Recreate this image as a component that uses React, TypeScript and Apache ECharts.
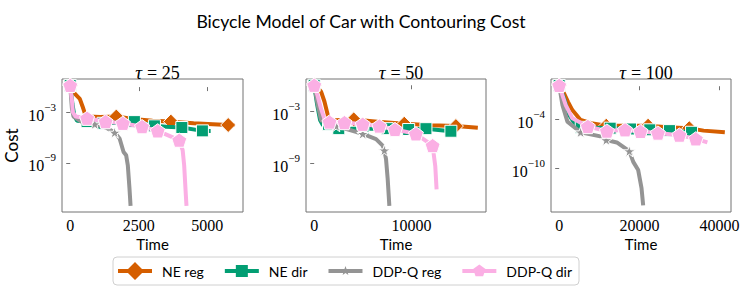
import React, { useEffect, useRef } from 'react';
import * as echarts from 'echarts';

// ---- Data: [time, log10(cost)] pairs; marker indices per series ----
const seriesNames = ['NE reg', 'NE dir', 'DDP-Q reg', 'DDP-Q dir'];
const seriesColors = ['#d55e00', '#029e73', '#949494', '#fbafe4'];
const panelTaus = [25, 50, 100];

// tau = 25
const tau25NeReg = [[0, 0.2], [50, -0.3], [200, -0.9], [350, -1.4], [450, -2.3], [530, -3.1], [650, -3.5], [1100, -3.55], [1680, -3.5], [2300, -3.8], [3000, -4.0], [3670, -4.1], [4500, -4.3], [5200, -4.4], [5760, -4.5], [6000, -4.5]];
const tau25NeRegMarks = [0, 8, 11, 14];
const tau25NeDir = [[0, 0.2], [80, -2.0], [150, -3.4], [250, -4.0], [616, -4.1], [1200, -4.3], [1800, -4.2], [2340, -4.1], [3070, -4.6], [3500, -4.7], [4070, -4.8], [4820, -5.2], [5120, -5.2]];
const tau25NeDirMarks = [0, 4, 5, 7, 8, 10, 11];
const tau25DdpReg = [[0, 0.2], [60, -2.5], [120, -3.5], [400, -4.1], [894, -4.4], [1300, -4.8], [1620, -5.4], [1800, -6.1], [1945, -7.7], [2040, -8.1], [2100, -9.3], [2160, -12.0], [2200, -14.1]];
const tau25DdpRegMarks = [0, 4, 6];
const tau25DdpDir = [[0, 0.2], [60, -1.5], [100, -3.0], [200, -3.5], [616, -3.7], [1290, -4.1], [1920, -4.3], [2620, -4.7], [3190, -5.2], [3975, -6.3], [4100, -7.5], [4155, -9.3], [4215, -12.8], [4240, -14.1]];
const tau25DdpDirMarks = [0, 4, 5, 6, 7, 8, 9];

// tau = 50
const tau50NeReg = [[0, 0.0], [300, -0.2], [717, -0.75], [1059, -1.9], [1400, -3.46], [1740, -4.05], [4060, -3.93], [6500, -4.2], [9250, -4.43], [12000, -4.6], [14550, -4.7], [16800, -4.9]];
const tau50NeRegMarks = [0, 6, 8, 10];
const tau50NeDir = [[0, 0.0], [300, -2.2], [600, -4.0], [900, -4.6], [1470, -4.5], [2527, -5.0], [5000, -5.0], [7500, -5.0], [9700, -5.1], [11474, -5.0], [14036, -5.3], [14300, -5.3]];
const tau50NeDirMarks = [0, 4, 5, 6, 7, 8, 9, 10];
const tau50DdpReg = [[0, 0.0], [375, -2.3], [717, -4.05], [2254, -4.7], [3500, -5.1], [4986, -5.6], [6352, -6.2], [7035, -6.95], [7206, -7.5], [7376, -8.5], [7547, -10.8], [7718, -13.9]];
const tau50DdpRegMarks = [0, 3, 5, 8];
const tau50DdpDir = [[0, 0.0], [350, -1.2], [700, -2.7], [1060, -3.9], [1570, -4.24], [3108, -4.3], [4986, -4.5], [6693, -4.7], [8298, -5.1], [10450, -5.6], [12157, -6.95], [12430, -9.3], [12567, -12.0]];
const tau50DdpDirMarks = [0, 4, 5, 6, 7, 8, 9, 10];

// tau = 100
const tau100NeReg = [[0, 0.1], [1232, -0.9], [2200, -1.9], [3284, -2.9], [5336, -4.1], [8000, -4.5], [11740, -4.8], [17000, -4.8], [22167, -4.8], [27000, -5.0], [32430, -5.1], [36000, -5.4], [41300, -5.6]];
const tau100NeRegMarks = [0, 6, 8, 10];
const tau100NeDir = [[0, 0.1], [1232, -1.5], [2463, -3.5], [4105, -4.7], [5500, -5.0], [12725, -5.1], [17800, -5.2], [22578, -5.3], [27500, -5.4], [33000, -5.6], [33250, -5.6]];
const tau100NeDirMarks = [0, 4, 5, 6, 7, 8, 9];
const tau100DdpReg = [[0, 0.1], [821, -2.3], [2053, -4.3], [5336, -5.6], [10260, -6.1], [11740, -6.55], [14370, -6.84], [17490, -7.9], [18470, -9.2], [19700, -10.2], [20530, -12.4], [20940, -14.5]];
const tau100DdpRegMarks = [0, 3, 5, 7];
const tau100DdpDir = [[0, 0.1], [1642, -2.3], [3284, -3.9], [7143, -4.9], [11905, -5.46], [16420, -5.3], [20280, -5.5], [24630, -5.7], [29970, -5.95], [34070, -6.4], [36950, -6.84]];
const tau100DdpDirMarks = [0, 3, 4, 5, 6, 7, 8, 9];

const panelSeries = [
  [[tau25NeReg, tau25NeRegMarks], [tau25NeDir, tau25NeDirMarks], [tau25DdpReg, tau25DdpRegMarks], [tau25DdpDir, tau25DdpDirMarks]],
  [[tau50NeReg, tau50NeRegMarks], [tau50NeDir, tau50NeDirMarks], [tau50DdpReg, tau50DdpRegMarks], [tau50DdpDir, tau50DdpDirMarks]],
  [[tau100NeReg, tau100NeRegMarks], [tau100NeDir, tau100NeDirMarks], [tau100DdpReg, tau100DdpRegMarks], [tau100DdpDir, tau100DdpDirMarks]],
];

// axis ticks / limits
const panelXTicks = [[0, 2500, 5000], [0, 10000], [0, 20000, 40000]];
const panelYTicks = [[-9, -3], [-9, -3], [-10, -4]];
const panelXRange = [[-300, 6300], [-840, 17640], [-2040, 42840]];
const panelYRange = [[-14.83, 0.96], [-14.6, 0.72], [-15.3, 0.88]];

// ---- styling ----
const PENTAGON = 'path://M50,0 L97.6,34.5 L79.4,90.5 L20.6,90.5 L2.4,34.5 Z';
const STAR = 'path://M50,0 L61.2,34.5 L97.6,34.5 L68.2,55.9 L79.4,90.5 L50,69.1 L20.6,90.5 L31.8,55.9 L2.4,34.5 L38.8,34.5 Z';
const seriesSymbols = ['diamond', 'rect', STAR, PENTAGON];
const seriesSymbolSizes = [15, 12, 12, 15];
// legend handles: line + marker in a 34x18 box (corner points fix the box)
const LEG_BOX = 'M0,0 L0,0 Z M34,18 L34,18 Z ';
const LEG_LINE = 'M0,7 L34,7 L34,11 L0,11 Z ';
const legendIcons = [
  'path://' + LEG_BOX + LEG_LINE + 'M17,0 L26,9 L17,18 L8,9 Z',
  'path://' + LEG_BOX + LEG_LINE + 'M11,3 L23,3 L23,15 L11,15 Z',
  'path://' + LEG_BOX + LEG_LINE + 'M17,4 L18.2,7.4 L21.8,7.5 L18.9,9.6 L19.9,13 L17,11 L14.1,13 L15.1,9.6 L12.2,7.5 L15.8,7.4 Z',
  'path://' + LEG_BOX + LEG_LINE + 'M17,2.5 L23.2,7 L20.8,14.3 L13.2,14.3 L10.8,7 Z',
];
const gridBoxes = [
  { left: 62, top: 79, width: 181, height: 133 },
  { left: 306, top: 79, width: 180, height: 133 },
  { left: 551, top: 79, width: 180, height: 133 },
];
const SANS = 'Lato, "DejaVu Sans", sans-serif';
const SERIF = '"Liberation Serif", "DejaVu Serif", serif';
const FRAME = '#737373';

export default function App() {
  const ref = useRef<HTMLDivElement>(null);
  useEffect(() => {
    document.body.style.margin = '0';
    const chart = echarts.init(ref.current!, undefined, { renderer: 'svg' });

    const grids = gridBoxes.map((g) => ({ ...g, show: true, borderColor: FRAME, borderWidth: 1, containLabel: false }));
    const xAxes = panelXRange.map((r, i) => ({
      type: 'value', gridIndex: i, min: r[0], max: r[1],
      name: 'Time', nameLocation: 'middle', nameGap: 24,
      nameTextStyle: { fontFamily: SANS, fontSize: 15, color: '#000' },
      axisLine: { show: false },
      splitLine: { show: false },
      axisTick: { show: true, length: 4, customValues: panelXTicks[i], lineStyle: { color: FRAME } },
      axisLabel: { customValues: panelXTicks[i], fontFamily: SERIF, fontSize: 16, color: '#000', margin: 5, formatter: (v: number) => String(v) },
    }));
    const yAxes = panelYRange.map((r, i) => ({
      type: 'value', gridIndex: i, min: r[0], max: r[1],
      name: i === 0 ? 'Cost' : '', nameLocation: 'middle', nameGap: 42, nameRotate: 90,
      nameTextStyle: { fontFamily: SANS, fontSize: 17, color: '#000' },
      axisLine: { show: false },
      splitLine: { show: false },
      axisTick: { show: true, length: 4, customValues: panelYTicks[i], lineStyle: { color: FRAME } },
      axisLabel: {
        customValues: panelYTicks[i], margin: 6, color: '#000',
        formatter: (v: number) => `{b|10}{s|\u2212${Math.abs(v)}}`,
        rich: {
          b: { fontFamily: SERIF, fontSize: 16, lineHeight: 22, verticalAlign: 'bottom', color: '#000' },
          s: { fontFamily: SERIF, fontSize: 11, lineHeight: 11, verticalAlign: 'top', color: '#000' },
        },
      },
    }));

    const series: any[] = [];
    panelSeries.forEach((panel, p) => {
      panel.forEach(([pts, marks], s) => {
        const markSet = new Set(marks as number[]);
        series.push({
          type: 'line', name: seriesNames[s], xAxisIndex: p, yAxisIndex: p,
          symbol: seriesSymbols[s], symbolSize: seriesSymbolSizes[s], symbolKeepAspect: true,
          showAllSymbol: true,
          lineStyle: { width: 4, color: seriesColors[s], type: 'solid' },
          itemStyle: { color: seriesColors[s], borderColor: '#ffffff', borderWidth: 1 },
          data: (pts as number[][]).map((pt, k) => (markSet.has(k) ? { value: pt } : { value: pt, symbol: 'none' })),
          z: 2 + s,
        });
      });
    });

    const titles: any[] = [
      { text: 'Bicycle Model of Car with Contouring Cost', left: 356, top: 7, textAlign: 'center',
        textStyle: { fontFamily: SANS, fontSize: 17.6, fontWeight: 'normal', color: '#000' } },
      ...panelTaus.map((tau, i) => ({
        text: `{i|\u03c4} {n|= ${tau}}`,
        left: gridBoxes[i].left + gridBoxes[i].width / 2, top: 58, textAlign: 'center',
        textStyle: {
          fontWeight: 'normal',
          rich: {
            i: { fontFamily: SERIF, fontStyle: 'italic', fontWeight: 'normal', fontSize: 19, color: '#000' },
            n: { fontFamily: SERIF, fontWeight: 'normal', fontSize: 18, color: '#000' },
          },
        },
      })),
    ];

    chart.setOption({
      animation: false,
      backgroundColor: '#ffffff',
      title: titles,
      grid: grids,
      xAxis: xAxes,
      yAxis: yAxes,
      legend: {
        data: seriesNames.map((name, s) => ({ name, icon: legendIcons[s], itemStyle: { color: seriesColors[s], borderWidth: 0 } })),
        left: 113, top: 257, orient: 'horizontal',
        itemWidth: 34, itemHeight: 18, itemGap: 21,
        padding: [5, 7, 5, 5],
        borderColor: '#d0d0d0', borderWidth: 1, borderRadius: 4,
        textStyle: { fontFamily: SANS, fontSize: 14, color: '#000', padding: [0, 0, 0, 5] },
      },
      series,
    });
    return () => chart.dispose();
  }, []);
  return <div ref={ref} style={{ width: 747, height: 291 }} />;
}
